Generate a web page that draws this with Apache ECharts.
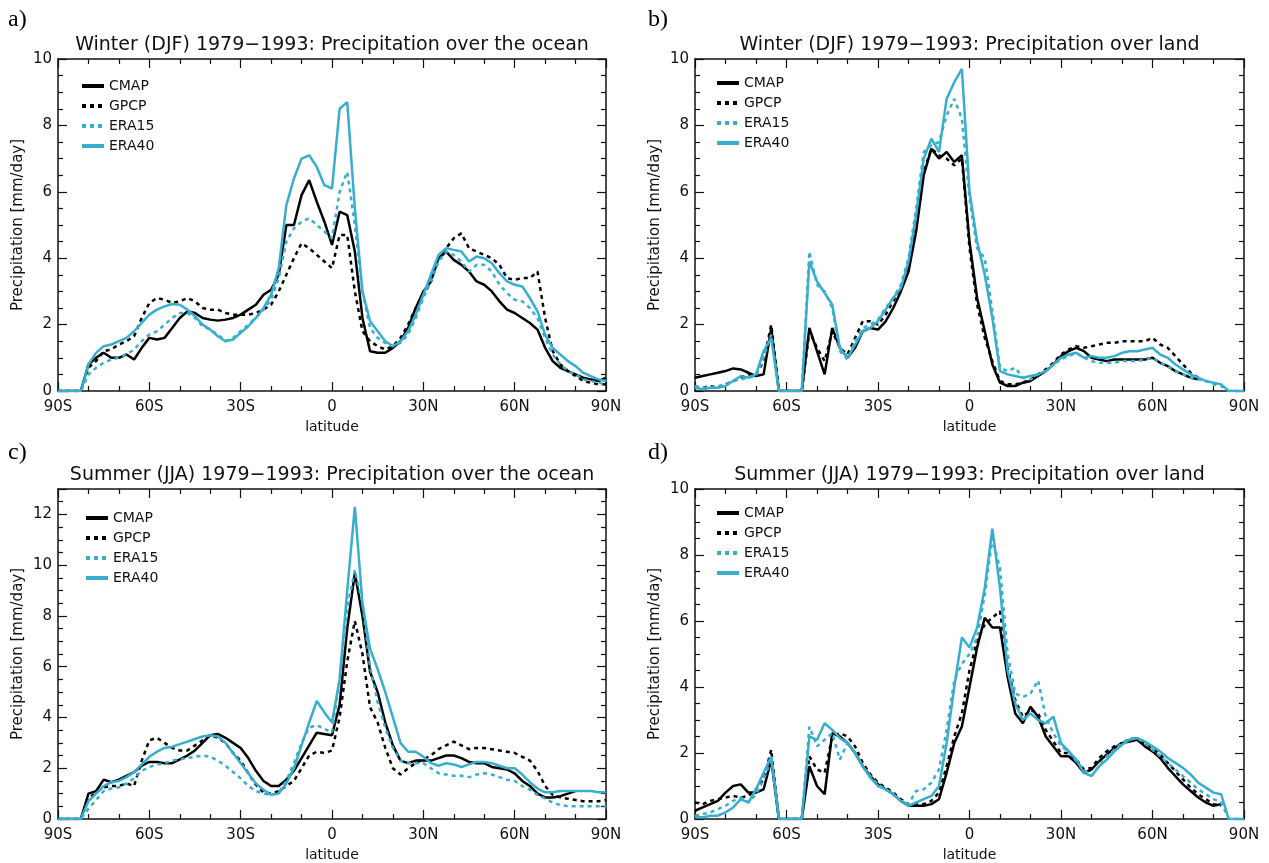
<!DOCTYPE html>
<html><head><meta charset="utf-8">
<script src="https://cdn.jsdelivr.net/npm/echarts@6/dist/echarts.min.js"></script>
<style>html,body{margin:0;padding:0;background:#fff}#c{width:1269px;height:863px}</style>
</head><body><div id="c"></div>
<script>
// latitude grid (degrees, negative = south)
const lat = [-90,-87.5,-85,-82.5,-80,-77.5,-75,-72.5,-70,-67.5,-65,-62.5,
  -60,-57.5,-55,-52.5,-50,-47.5,-45,-42.5,-40,-37.5,-35,-32.5,
  -30,-27.5,-25,-22.5,-20,-17.5,-15,-12.5,-10,-7.5,-5,-2.5,
  0,2.5,5,7.5,10,12.5,15,17.5,20,22.5,25,27.5,
  30,32.5,35,37.5,40,42.5,45,47.5,50,52.5,55,57.5,
  60,62.5,65,67.5,70,72.5,75,77.5,80,82.5,85,87.5,
  90];
const seriesNames = ['CMAP','GPCP','ERA15','ERA40'];
const xTickLabels = {'-90':'90S','-60':'60S','-30':'30S','0':'0','30':'30N','60':'60N','90':'90N'};

// a) Winter (DJF) ocean
const aCMAP = [0,0,0,0,0.8,1.0,1.15,1.0,1.0,1.1,0.95,1.3,
  1.6,1.55,1.6,1.9,2.2,2.4,2.35,2.2,2.15,2.12,2.15,2.2,
  2.3,2.45,2.6,2.9,3.05,3.5,5.0,5.0,5.9,6.35,5.7,5.1,
  4.4,5.4,5.3,4.2,2.2,1.2,1.15,1.15,1.3,1.5,1.9,2.5,
  3.0,3.3,4.0,4.2,3.95,3.8,3.6,3.3,3.2,3.0,2.7,2.45,
  2.35,2.2,2.05,1.85,1.3,0.9,0.7,0.6,0.5,0.4,0.35,0.3,
  0.4];
const aGPCP = [0,0,0,0,0.7,0.9,1.2,1.25,1.4,1.5,1.65,2.2,
  2.65,2.8,2.75,2.65,2.7,2.8,2.7,2.5,2.45,2.45,2.35,2.3,
  2.3,2.3,2.35,2.45,2.6,3.0,3.5,4.0,4.45,4.3,4.1,3.9,
  3.7,4.7,4.7,3.0,1.8,1.5,1.35,1.25,1.35,1.6,2.0,2.5,
  2.9,3.3,4.0,4.3,4.6,4.75,4.3,4.2,4.1,4.0,3.8,3.4,
  3.35,3.4,3.4,3.6,2.2,1.2,0.8,0.6,0.45,0.3,0.25,0.2,
  0.2];
const aERA15 = [0,0,0,0,0.5,0.7,0.85,0.95,1.0,1.1,1.25,1.5,
  1.7,1.8,2.0,2.2,2.35,2.35,2.2,1.95,1.85,1.7,1.5,1.6,
  1.8,2.0,2.2,2.45,2.75,3.4,4.5,4.9,5.1,5.2,5.0,4.8,
  4.6,6.0,6.6,5.0,3.0,1.9,1.6,1.45,1.35,1.45,1.7,2.2,
  2.8,3.3,3.9,4.2,4.1,3.9,3.6,3.8,3.8,3.6,3.2,2.95,
  2.75,2.7,2.5,2.2,1.6,1.1,0.8,0.6,0.5,0.35,0.3,0.25,
  0.2];
const aERA40 = [0,0,0,0,0.8,1.15,1.35,1.4,1.5,1.6,1.8,2.05,
  2.3,2.45,2.55,2.62,2.6,2.45,2.25,2.0,1.85,1.65,1.5,1.55,
  1.75,1.95,2.2,2.5,2.9,3.7,5.6,6.4,7.0,7.1,6.75,6.2,
  6.1,8.5,8.7,5.5,3.0,2.1,1.8,1.5,1.35,1.5,1.8,2.3,
  2.9,3.5,4.1,4.3,4.25,4.2,3.9,4.05,4.0,3.85,3.55,3.3,
  3.2,3.15,2.8,2.4,1.7,1.3,1.1,0.9,0.75,0.55,0.45,0.35,
  0.3];

// b) Winter (DJF) land
const bCMAP = [0.4,0.45,0.5,0.55,0.6,0.68,0.65,0.55,0.45,0.5,1.9,0,
  0,0,0,1.9,1.2,0.5,1.9,1.3,1.0,1.3,1.8,1.9,
  1.85,2.1,2.5,3.0,3.6,4.8,6.5,7.3,7.0,7.2,6.9,7.1,
  4.5,2.8,1.8,0.8,0.25,0.15,0.15,0.25,0.3,0.45,0.6,0.8,
  1.05,1.2,1.3,1.2,1.0,0.95,0.9,0.95,0.95,0.95,0.95,0.95,
  1.0,0.85,0.75,0.6,0.5,0.4,0.35,null,null,null,null,null,
  null];
const bGPCP = [0.1,0.1,0.15,0.1,0.2,0.3,0.4,0.5,0.5,0.9,2.0,0,
  0,0,0,1.8,1.3,0.9,1.8,1.3,1.1,1.6,2.1,2.1,
  2.0,2.3,2.7,3.1,3.8,5.0,6.6,7.3,7.1,7.0,6.8,7.0,
  4.3,2.6,1.6,0.9,0.3,0.2,0.2,0.25,0.35,0.5,0.65,0.85,
  1.1,1.25,1.35,1.3,1.35,1.4,1.45,1.45,1.5,1.5,1.5,1.5,
  1.6,1.4,1.3,1.05,0.8,0.55,0.4,null,null,null,null,null,
  null];
const bERA15 = [0.15,0.1,0.1,0.15,0.2,0.3,0.35,0.4,0.45,1.0,1.7,0,
  0,0,0,4.2,3.2,3.0,2.5,1.2,0.95,1.5,1.9,2.0,
  2.15,2.5,2.8,3.2,4.0,5.5,7.2,7.4,7.5,8.3,8.8,8.2,
  5.8,4.3,4.0,2.4,0.7,0.6,0.7,0.4,0.35,0.5,0.6,0.8,
  0.95,1.05,1.15,1.0,0.9,0.85,0.85,0.85,0.9,0.9,0.9,0.95,
  1.0,0.85,0.75,0.6,0.5,0.4,0.35,0.3,0.2,0.15,0,0,
  0];
const bERA40 = [0.1,0.05,0.1,0.1,0.15,0.3,0.45,0.4,0.5,1.2,1.6,0,
  0,0,0,3.9,3.3,2.95,2.6,1.3,1.0,1.4,1.8,1.9,
  2.1,2.45,2.8,3.1,3.9,5.3,7.0,7.6,7.2,8.8,9.3,9.7,
  6.0,4.5,3.5,2.2,0.6,0.5,0.45,0.4,0.45,0.5,0.6,0.8,
  1.0,1.1,1.15,1.0,1.05,1.0,1.0,1.05,1.15,1.2,1.2,1.25,
  1.3,1.1,1.0,0.8,0.65,0.5,0.4,0.3,0.25,0.2,0,0,
  0];

// c) Summer (JJA) ocean
const cCMAP = [0,0,0,0,1.0,1.1,1.55,1.45,1.55,1.7,1.85,2.1,
  2.25,2.25,2.2,2.2,2.35,2.5,2.7,3.0,3.3,3.35,3.2,3.0,
  2.8,2.4,1.9,1.5,1.3,1.3,1.55,1.9,2.4,2.9,3.4,3.35,
  3.3,4.5,7.5,9.7,8.0,5.8,5.0,3.8,2.9,2.3,2.2,2.3,
  2.3,2.3,2.4,2.5,2.5,2.4,2.25,2.2,2.2,2.05,2.0,1.95,
  1.8,1.5,1.3,1.0,0.85,0.85,0.9,1.0,1.1,null,null,null,
  null];
const cGPCP = [0,0,0,0,0.8,1.05,1.25,1.3,1.3,1.4,1.3,2.3,
  3.1,3.2,3.0,2.8,2.7,2.7,2.9,3.1,3.3,3.2,3.0,2.6,
  2.3,1.8,1.35,1.05,1.0,1.1,1.3,1.5,2.0,2.5,2.65,2.6,
  2.7,4.0,6.2,7.8,6.5,4.4,3.8,2.8,2.0,1.75,2.0,2.2,
  2.35,2.5,2.75,2.9,3.05,2.9,2.75,2.8,2.8,2.75,2.7,2.65,
  2.6,2.45,2.3,1.9,1.3,0.95,0.85,0.8,0.75,0.7,0.7,0.7,
  0.75];
const cERA15 = [0,0,0,0,0.4,0.75,1.1,1.2,1.25,1.4,1.6,1.9,
  2.05,2.15,2.2,2.3,2.35,2.4,2.45,2.5,2.45,2.3,2.1,1.85,
  1.6,1.3,1.1,1.0,0.95,1.05,1.5,2.2,3.0,3.6,3.7,3.55,
  3.4,5.5,8.3,9.8,8.5,6.0,4.6,3.6,2.8,2.3,2.2,2.2,
  2.2,2.0,1.8,1.75,1.7,1.7,1.65,1.75,1.8,1.75,1.65,1.55,
  1.5,1.3,1.15,0.95,0.8,0.65,0.55,0.5,0.5,0.5,0.5,0.5,
  0.5];
const cERA40 = [0,0,0,0,0.7,1.0,1.3,1.45,1.5,1.65,1.85,2.15,
  2.45,2.65,2.8,2.85,2.95,3.05,3.15,3.25,3.3,3.25,3.0,2.6,
  2.2,1.8,1.4,1.15,0.95,1.0,1.4,2.0,2.9,3.8,4.65,4.2,
  3.8,5.5,9.0,12.3,8.5,6.7,5.9,5.0,4.0,3.0,2.65,2.65,
  2.45,2.2,2.1,2.2,2.15,2.05,2.15,2.25,2.25,2.2,2.1,2.0,
  2.0,1.75,1.45,1.2,1.05,1.05,1.1,1.1,1.1,1.1,1.1,1.05,
  1.05];

// d) Summer (JJA) land
const dCMAP = [0.25,0.35,0.45,0.55,0.8,1.0,1.05,0.8,0.8,0.9,1.8,0,
  0,0,0,1.6,1.0,0.75,2.6,2.5,2.3,2.0,1.6,1.3,
  1.05,0.9,0.75,0.55,0.4,0.4,0.4,0.45,0.6,1.4,2.3,2.8,
  4.0,5.2,6.1,5.8,5.8,4.3,3.2,2.9,3.4,3.1,2.5,2.2,
  1.9,1.9,1.7,1.4,1.5,1.75,1.95,2.15,2.3,2.35,2.4,2.2,
  2.05,1.85,1.55,1.3,1.05,0.85,0.65,0.5,0.4,0.45,null,null,
  null];
const dGPCP = [0.5,0.45,0.55,0.6,0.65,0.7,0.65,0.7,0.9,1.2,2.1,0,
  0,0,0,1.9,1.5,1.4,2.5,2.6,2.5,2.2,1.7,1.35,
  1.1,0.95,0.8,0.6,0.45,0.45,0.45,0.55,0.8,1.6,2.5,3.2,
  4.5,5.4,5.9,6.1,6.3,4.6,3.6,3.1,3.3,3.2,2.7,2.35,
  2.0,2.0,1.8,1.5,1.55,1.85,2.05,2.2,2.3,2.4,2.45,2.3,
  2.15,1.95,1.7,1.45,1.2,0.95,0.75,0.6,0.45,0.4,null,null,
  null];
const dERA15 = [0.1,0.15,0.2,0.3,0.4,0.55,0.65,0.5,0.75,1.2,1.8,0,
  0,0,0,2.8,2.2,2.4,2.6,1.8,2.3,2.0,1.6,1.3,
  1.05,0.9,0.75,0.55,0.45,0.85,0.9,1.1,1.5,2.7,4.2,4.7,
  5.0,5.5,6.8,8.5,7.6,5.0,3.8,3.7,3.8,4.2,3.1,2.6,
  2.2,2.05,1.75,1.5,1.3,1.6,1.9,2.1,2.3,2.45,2.45,2.3,
  2.1,1.9,1.7,1.5,1.3,1.1,0.9,0.75,0.6,0.5,0,0,
  0];
const dERA40 = [0.05,0.05,0.1,0.1,0.2,0.35,0.6,0.5,0.9,1.4,1.9,0,
  0,0,0,2.5,2.4,2.9,2.7,2.45,2.3,2.0,1.6,1.25,
  1.0,0.9,0.75,0.55,0.4,0.5,0.6,0.7,1.0,2.3,4.0,5.5,
  5.2,5.8,7.0,8.8,7.0,4.5,3.5,3.0,3.2,3.0,2.9,3.1,
  2.3,2.05,1.8,1.4,1.3,1.6,1.8,2.05,2.25,2.4,2.45,2.35,
  2.2,2.05,1.85,1.7,1.55,1.35,1.1,0.95,0.8,0.75,0,0,
  0];

const titles = [
  'Winter (DJF) 1979\u22121993: Precipitation over the ocean',
  'Winter (DJF) 1979\u22121993: Precipitation over land',
  'Summer (JJA) 1979\u22121993: Precipitation over the ocean',
  'Summer (JJA) 1979\u22121993: Precipitation over land'
];
const tags = ['a)','b)','c)','d)'];
const yMax = [10,10,13,10];
const panelData = [
  [aCMAP,aGPCP,aERA15,aERA40],
  [bCMAP,bGPCP,bERA15,bERA40],
  [cCMAP,cGPCP,cERA15,cERA40],
  [dCMAP,dGPCP,dERA15,dERA40]
];

// ---------- layout / style ----------
const FONT = 'DejaVu Sans';
const CYAN = '#38AECF';
const INK = '#111';
const layout = [
  {left:58, top:59, width:548, height:332, legL:80, legT:79, tagX:8, tagY:20, titleY:45},
  {left:695, top:59, width:549, height:332, legL:715, legT:76, tagX:648, tagY:20, titleY:45},
  {left:58, top:489, width:548, height:331, legL:84, legT:511, tagX:8, tagY:453, titleY:475},
  {left:695, top:489, width:549, height:331, legL:715, legT:506, tagX:648, tagY:453, titleY:475}
];
const styles = [
  {color:'#000', type:'solid'},
  {color:'#000', type:[4,4]},
  {color:CYAN, type:[4,4]},
  {color:CYAN, type:'solid'}
];
const axisLine = {show:true, onZero:false, lineStyle:{color:INK, width:1.5}};
const tickStyle = {color:INK, width:1.2};

const grid = [], xAxis = [], yAxis = [], series = [], legend = [], graphic = [];
layout.forEach((L, i) => {
  grid.push({left:L.left, top:L.top, width:L.width, height:L.height, containLabel:false});
  xAxis.push({
    gridIndex:i, type:'value', min:-90, max:90, interval:30, position:'bottom',
    axisLine, axisTick:{inside:true, length:9, lineStyle:tickStyle},
    minorTick:{show:true, splitNumber:3, length:5, lineStyle:tickStyle},
    splitLine:{show:false}, minorSplitLine:{show:false},
    axisLabel:{margin:9, fontSize:15, color:INK, fontFamily:FONT,
      formatter:v => xTickLabels[String(v)] !== undefined ? xTickLabels[String(v)] : ''},
    name:'latitude', nameLocation:'middle', nameGap:29,
    nameTextStyle:{fontSize:14, color:INK, fontFamily:FONT}
  });
  xAxis.push({
    gridIndex:i, type:'value', min:-90, max:90, interval:30, position:'top',
    axisLine, axisTick:{inside:true, length:9, lineStyle:tickStyle},
    minorTick:{show:true, splitNumber:3, length:5, lineStyle:tickStyle},
    splitLine:{show:false}, axisLabel:{show:false}
  });
  yAxis.push({
    gridIndex:i, type:'value', min:0, max:yMax[i], interval:2, position:'left',
    axisLine, axisTick:{inside:true, length:9, lineStyle:tickStyle},
    minorTick:{show:true, splitNumber:4, length:5, lineStyle:tickStyle},
    splitLine:{show:false},
    axisLabel:{margin:6, fontSize:15, color:INK, fontFamily:FONT, showMaxLabel: yMax[i] % 2 === 0},
    name:'Precipitation [mm/day]', nameLocation:'middle', nameGap:32, nameRotate:90,
    nameTextStyle:{fontSize:15, color:INK, fontFamily:FONT}
  });
  yAxis.push({
    gridIndex:i, type:'value', min:0, max:yMax[i], interval:2, position:'right',
    axisLine, axisTick:{inside:true, length:9, lineStyle:tickStyle},
    minorTick:{show:true, splitNumber:4, length:5, lineStyle:tickStyle},
    splitLine:{show:false}, axisLabel:{show:false}
  });
  panelData[i].forEach((vals, k) => {
    series.push({
      name:seriesNames[k], type:'line', xAxisIndex:2*i, yAxisIndex:2*i,
      symbol:'none', smooth:false, connectNulls:false,
      lineStyle:{color:styles[k].color, width:2.5, type:styles[k].type},
      itemStyle:{color:styles[k].color},
      data:lat.map((x, j) => [x, vals[j] === null ? '-' : vals[j]]),
      z: 2 + k
    });
  });
  legend.push({
    left:L.legL, top:L.legT, padding:0, orient:'vertical', data:seriesNames.slice(),
    itemWidth:22, itemHeight:14, itemGap:6, selectedMode:false,
    lineStyle:{width:4},
    itemStyle:{opacity:0},
    textStyle:{fontSize:14, color:INK, fontFamily:FONT, lineHeight:14}
  });
  graphic.push({type:'text', x:L.tagX, y:L.tagY,
    style:{text:tags[i], font:'24px "Liberation Serif"', fill:'#000', textVerticalAlign:'middle'}});
  graphic.push({type:'text', x:L.left + L.width/2, y:L.titleY,
    style:{text:titles[i], font:'19px "DejaVu Sans"', fill:INK, textAlign:'center', textVerticalAlign:'middle'}});
});

const chart = echarts.init(document.getElementById('c'), null, {renderer:'canvas'});
chart.setOption({
  animation:false, backgroundColor:'#fff',
  grid, xAxis, yAxis, series, legend, graphic
});
</script>
</body></html>
